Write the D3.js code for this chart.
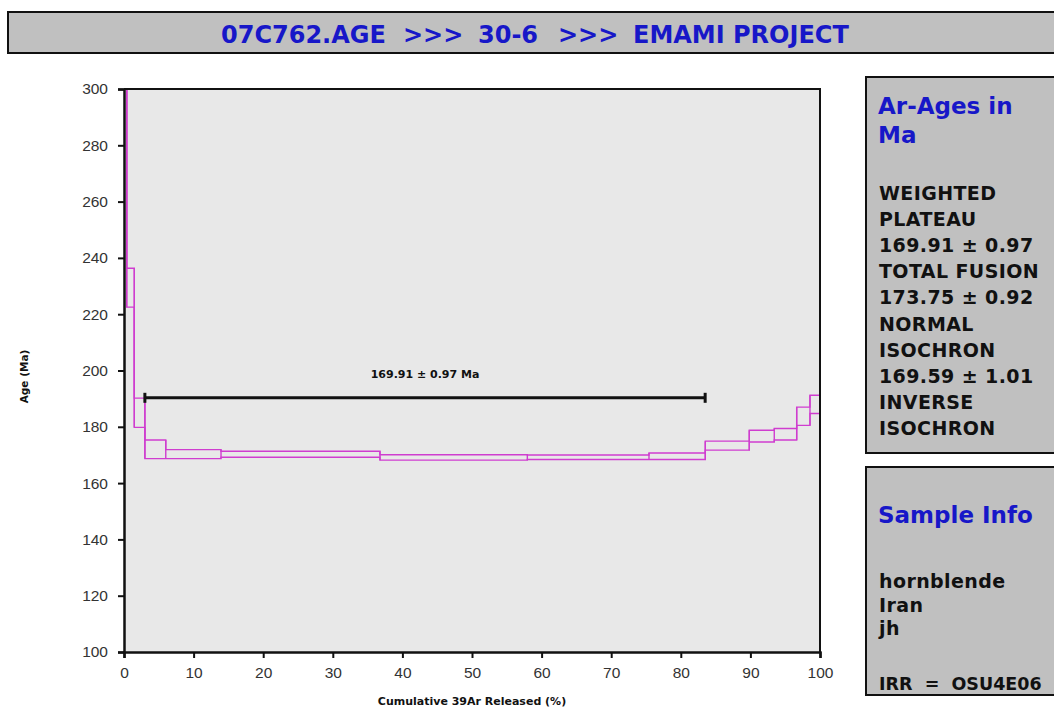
<!DOCTYPE html>
<html>
<head lang="en">
    <meta charset="utf-8">
    <script src="https://d3js.org/d3.v7.min.js"></script>
    <style>
        body { margin: 0; background: #fff; }
    </style>
</head>
<body>
    <div id="chart"></div>

    <script>
        // Age spectrum steps: cumulative 39Ar where each step starts (%), age and error (Ma)
        const stepStart = [0, 0.39, 1.48, 3.0, 6.0, 13.94, 36.78, 57.95, 75.43, 83.52, 89.84, 93.43, 96.65, 98.56];
        const stepAge   = [420, 229.4, 185.0, 172.0, 170.3, 170.25, 169.1, 169.2, 169.55, 173.3, 176.7, 177.35, 183.75, 187.95];
        const stepErr   = [60, 6.9, 5.2, 3.3, 1.6, 1.05, 0.95, 0.8, 1.15, 1.6, 2.1, 2.05, 3.25, 3.25];

        // Plateau bar (steps 4 to 9)
        const plateauRange = [3.0, 83.5];
        const plateauBarAge = 190.3;
        const plateauLabel = '169.91 \u00b1 0.97 Ma';

        const xTicks = [0, 10, 20, 30, 40, 50, 60, 70, 80, 90, 100];
        const yTicks = [100, 120, 140, 160, 180, 200, 220, 240, 260, 280, 300];

        const titleParts = ['07C762.AGE', '>>>', '30-6', '>>>', 'EMAMI PROJECT'];
        const agesHeading = ['Ar-Ages in', 'Ma'];
        const agesLines = ['WEIGHTED', 'PLATEAU', '169.91 \u00b1 0.97', 'TOTAL FUSION', '173.75 \u00b1 0.92',
                           'NORMAL', 'ISOCHRON', '169.59 \u00b1 1.01', 'INVERSE', 'ISOCHRON'];
        const sampleHeading = 'Sample Info';
        const sampleLines = ['hornblende', 'Iran', 'jh'];
        const irrLine = 'IRR  =  OSU4E06';

        const width = 1054;
        const height = 709;
        const margin = ({top: 89, right: 234, bottom: 57, left: 124});
        const blue = '#1717c8';
        const pink = '#cf3dcf';
        const boxFont = 'DejaVu Sans, Verdana, sans-serif';

        const svg = d3.create('svg')
            .attr('width', width)
            .attr('height', height)
            .style('display', 'block')
            .style('background', '#fff');

        // title bar
        const titleX = [221, 403, 478, 558, 633];
        svg.append('rect')
            .attr('x', 8).attr('y', 12)
            .attr('width', width + 10).attr('height', 41)
            .attr('fill', '#c0c0c0')
            .attr('stroke', '#111')
            .attr('stroke-width', 2);
        svg.append('g')
            .selectAll('text')
            .data(titleParts)
            .join('text')
            .attr('x', (d, i) => titleX[i])
            .attr('y', 43)
            .attr('fill', blue)
            .attr('font-family', boxFont)
            .attr('font-weight', 'bold')
            .attr('font-size', '24px')
            .text(d => d);

        // scales
        const xScale = d3.scaleLinear()
            .domain([0, 100])
            .range([margin.left, width - margin.right]);

        const yScale = d3.scaleLinear()
            .domain([100, 300])
            .range([height - margin.bottom, margin.top]);

        // plot background
        svg.append('rect')
            .attr('x', xScale(0)).attr('y', yScale(300))
            .attr('width', xScale(100) - xScale(0))
            .attr('height', yScale(100) - yScale(300))
            .attr('fill', '#e8e8e8');

        svg.append('clipPath')
            .attr('id', 'plot-clip')
            .append('rect')
            .attr('x', xScale(0)).attr('y', yScale(300))
            .attr('width', xScale(100) - xScale(0))
            .attr('height', yScale(100) - yScale(300));

        // spectrum: upper and lower envelopes as step lines
        const steps = stepStart.map((s, i) => ({x: s, hi: stepAge[i] + stepErr[i], lo: stepAge[i] - stepErr[i]}));
        const last = steps[steps.length - 1];
        steps.push({x: 100, hi: last.hi, lo: last.lo});

        const upper = d3.line().x(d => xScale(d.x)).y(d => yScale(d.hi)).curve(d3.curveStepAfter);
        const lower = d3.line().x(d => xScale(d.x)).y(d => yScale(d.lo)).curve(d3.curveStepAfter);

        const spectrum = svg.append('g').attr('clip-path', 'url(#plot-clip)');
        spectrum.append('path')
            .attr('d', upper(steps))
            .attr('fill', 'none')
            .attr('stroke', pink)
            .attr('stroke-width', 1.4);
        spectrum.append('path')
            .attr('d', lower(steps))
            .attr('fill', 'none')
            .attr('stroke', pink)
            .attr('stroke-width', 1.4);
        // closing edges between the two envelopes at each step boundary
        spectrum.append('g')
            .selectAll('line')
            .data(steps.slice(1))
            .join('line')
            .attr('x1', d => xScale(d.x)).attr('x2', d => xScale(d.x))
            .attr('y1', (d, i) => yScale(Math.max(d.hi, steps[i].hi)))
            .attr('y2', (d, i) => yScale(Math.min(d.lo, steps[i].lo)))
            .attr('stroke', pink)
            .attr('stroke-width', 1.4);

        // plateau bar
        const plat = svg.append('g').attr('stroke', '#111').attr('stroke-width', 3);
        plat.append('line')
            .attr('x1', xScale(plateauRange[0])).attr('x2', xScale(plateauRange[1]))
            .attr('y1', yScale(plateauBarAge)).attr('y2', yScale(plateauBarAge));
        plat.selectAll('.cap')
            .data(plateauRange)
            .join('line')
            .attr('class', 'cap')
            .attr('x1', d => xScale(d)).attr('x2', d => xScale(d))
            .attr('y1', yScale(plateauBarAge) - 5).attr('y2', yScale(plateauBarAge) + 5);
        svg.append('text')
            .attr('x', xScale((plateauRange[0] + plateauRange[1]) / 2))
            .attr('y', yScale(plateauBarAge) - 20)
            .attr('text-anchor', 'middle')
            .attr('font-family', boxFont)
            .attr('font-weight', 'bold')
            .attr('font-size', '11px')
            .attr('fill', '#111')
            .text(plateauLabel);

        // frame top and right
        svg.append('path')
            .attr('d', `M${xScale(0)},${yScale(300)}H${xScale(100)}V${yScale(100)}`)
            .attr('fill', 'none')
            .attr('stroke', '#111')
            .attr('stroke-width', 2);

        // x-axis
        const xAxis = svg.append('g')
            .attr('transform', `translate(0, ${yScale(100)})`)
            .call(d3.axisBottom(xScale).tickValues(xTicks).tickSize(6).tickPadding(9));
        // y-axis
        const yAxis = svg.append('g')
            .attr('transform', `translate(${xScale(0)}, 0)`)
            .call(d3.axisLeft(yScale).tickValues(yTicks).tickSize(6).tickPadding(10));

        [xAxis, yAxis].forEach(ax => {
            ax.select('.domain').attr('stroke', '#111').attr('stroke-width', 2.5);
            ax.selectAll('.tick line').attr('stroke', '#111').attr('stroke-width', 2);
            ax.selectAll('.tick text')
                .attr('fill', '#333')
                .attr('font-family', 'Liberation Sans, Arial, sans-serif')
                .attr('font-size', '15.5px');
        });

        // axis titles
        svg.append('text')
            .attr('x', (xScale(0) + xScale(100)) / 2)
            .attr('y', 705)
            .attr('text-anchor', 'middle')
            .attr('font-family', boxFont)
            .attr('font-weight', 'bold')
            .attr('font-size', '11px')
            .attr('fill', '#111')
            .text('Cumulative 39Ar Released (%)');
        svg.append('text')
            .attr('transform', `translate(28, ${(yScale(100) + yScale(300)) / 2 + 6}) rotate(-90)`)
            .attr('text-anchor', 'middle')
            .attr('font-family', boxFont)
            .attr('font-weight', 'bold')
            .attr('font-size', '10.5px')
            .attr('fill', '#111')
            .text('Age (Ma)');

        // info boxes on the right
        function infoBox(y, h, heading, headingBase, lines, lineBase, step) {
            svg.append('rect')
                .attr('x', 866).attr('y', y)
                .attr('width', 200).attr('height', h)
                .attr('fill', '#c0c0c0')
                .attr('stroke', '#111')
                .attr('stroke-width', 2);
            svg.append('g')
                .selectAll('text')
                .data(heading)
                .join('text')
                .attr('x', 878)
                .attr('y', (d, i) => headingBase + i * 29)
                .attr('fill', blue)
                .attr('font-family', boxFont)
                .attr('font-weight', 'bold')
                .attr('font-size', '23px')
                .text(d => d);
            svg.append('g')
                .selectAll('text')
                .data(lines)
                .join('text')
                .attr('x', 879)
                .attr('y', (d, i) => lineBase + i * step)
                .attr('fill', '#111')
                .attr('font-family', boxFont)
                .attr('font-weight', 'bold')
                .attr('font-size', '19px')
                .attr('letter-spacing', '0.4px')
                .text(d => d);
        }

        infoBox(77, 376, agesHeading, 114, agesLines, 200, 26.1);
        infoBox(467, 228, [sampleHeading], 523, sampleLines, 588, 23.5);
        svg.append('text')
            .attr('x', 879).attr('y', 690)
            .attr('fill', '#111')
            .attr('font-family', boxFont)
            .attr('font-weight', 'bold')
            .attr('font-size', '17.5px')
            .style('white-space', 'pre')
            .text(irrLine);

        document.getElementById('chart').appendChild(svg.node());
    </script>
</body>
</html>
